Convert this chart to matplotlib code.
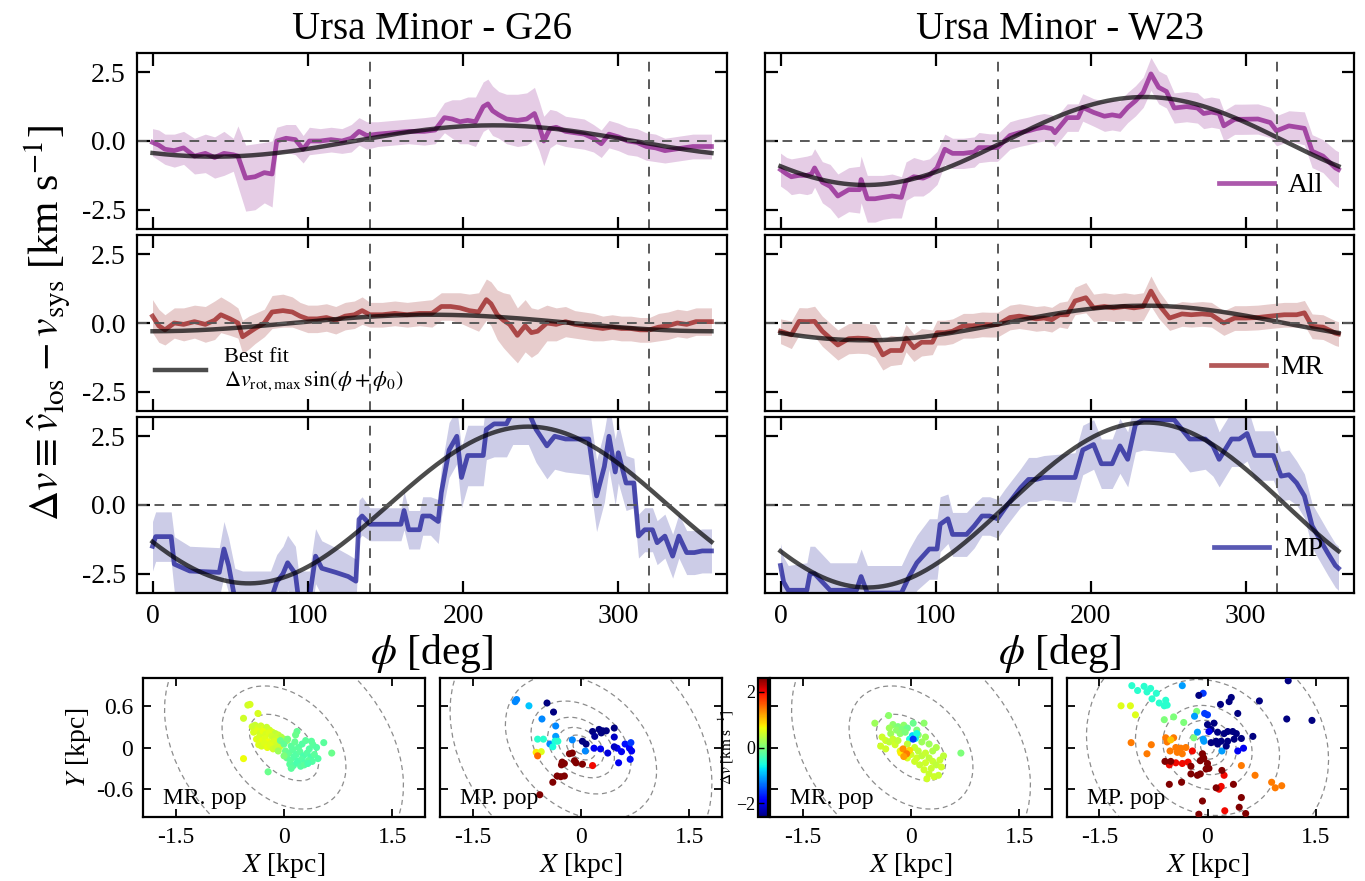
import numpy as np
import matplotlib
matplotlib.use("Agg")
import matplotlib.pyplot as plt
from matplotlib.patches import Ellipse

plt.rcParams['font.family'] = 'serif'
plt.rcParams['font.serif'] = ['Liberation Serif', 'DejaVu Serif']
plt.rcParams['mathtext.fontset'] = 'stix'

# ---------------- rotation curves: Ursa Minor - G26 ----------------
phi_all_g26 = [0, 4, 8, 14, 20, 27, 34, 40, 46, 52, 55, 60, 66, 72, 77, 80, 86, 92, 97, 101,
               108, 115, 122, 128, 133, 138, 145, 155, 165, 175, 182, 188, 193, 198, 203, 208, 213, 216, 219, 223,
               228, 235, 241, 246, 249, 252, 256, 260, 266, 272, 278, 284, 289, 294, 300, 306, 312, 318, 324, 330,
               336, 342, 348, 354, 360]
dv_all_g26 = [-0.05, -0.15, -0.3, -0.35, -0.25, -0.55, -0.45, -0.6, -0.45, -0.5, -0.55, -1.35, -1.3, -1.15, -1.2, 0.0, 0.1, 0.05, -0.3, 0.0,
              0.0, 0.05, 0.0, 0.1, 0.35, 0.2, 0.25, 0.3, 0.35, 0.35, 0.4, 0.85, 0.8, 0.7, 0.75, 0.7, 1.25, 1.35, 1.1, 0.95,
              0.8, 0.75, 0.8, 1.0, 0.55, 0.0, 0.45, 0.5, 0.35, 0.3, 0.25, 0.1, -0.1, 0.25, 0.15, 0.0, -0.05, -0.2, -0.25, -0.35,
              -0.3, -0.25, -0.2, -0.2, -0.2]
err_all_g26 = [0.5, 0.55, 0.55, 0.6, 0.6, 0.65, 0.7, 0.75, 0.8, 0.6, 1.1, 1.2, 1.2, 1.1, 1.2, 0.5, 0.5, 0.55, 0.5, 0.5,
               0.45, 0.45, 0.45, 0.5, 0.5, 0.5, 0.45, 0.45, 0.45, 0.5, 0.5, 0.55, 0.7, 0.8, 0.85, 0.9, 0.9, 0.9, 0.9, 0.85,
               0.9, 0.95, 0.95, 0.95, 0.9, 0.9, 0.7, 0.6, 0.55, 0.55, 0.55, 0.5, 0.5, 0.5, 0.5, 0.5, 0.5, 0.5, 0.5, 0.45,
               0.45, 0.45, 0.45, 0.45, 0.45]

phi_mr_g26 = [0, 4, 8, 14, 20, 27, 34, 40, 44, 50, 55, 58, 62, 66, 72, 77, 84, 90, 95, 100,
              106, 112, 118, 124, 130, 135, 140, 148, 156, 164, 172, 180, 186, 192, 198, 204, 210, 215, 218, 222,
              226, 230, 235, 240, 244, 248, 254, 260, 266, 272, 278, 284, 290, 296, 302, 308, 314, 320, 326, 332,
              338, 344, 350, 356, 360]
dv_mr_g26 = [0.25, -0.1, -0.25, 0.0, -0.05, 0.05, -0.05, 0.1, 0.3, 0.15, 0.0, -0.5, -0.35, -0.2, 0.0, 0.4, 0.45, 0.4, 0.25, 0.15,
             0.15, 0.2, 0.1, 0.25, 0.3, 0.45, 0.3, 0.3, 0.35, 0.3, 0.35, 0.35, 0.6, 0.6, 0.55, 0.45, 0.4, 0.85, 0.7, 0.3,
             0.1, -0.05, -0.45, -0.1, -0.35, -0.3, 0.0, -0.05, 0.05, -0.05, -0.1, -0.15, -0.2, -0.15, -0.2, -0.2, -0.25, -0.25, -0.15, -0.1,
             0.0, -0.05, 0.05, 0.05, 0.05]
err_mr_g26 = [0.6, 0.6, 0.55, 0.55, 0.6, 0.6, 0.65, 0.7, 0.65, 0.6, 0.55, 0.6, 0.6, 0.55, 0.5, 0.6, 0.6, 0.55, 0.5, 0.5,
              0.5, 0.5, 0.5, 0.5, 0.5, 0.5, 0.45, 0.45, 0.45, 0.45, 0.45, 0.5, 0.5, 0.5, 0.55, 0.6, 0.7, 0.75, 0.8, 0.9,
              1.0, 1.1, 1.0, 0.95, 0.9, 0.8, 0.65, 0.6, 0.55, 0.5, 0.5, 0.5, 0.45, 0.45, 0.45, 0.45, 0.45, 0.45, 0.5, 0.5,
              0.5, 0.5, 0.5, 0.5, 0.5]

phi_mp_g26 = [0, 2, 12, 14, 24, 43, 46, 49, 53, 58, 66, 76, 80, 84, 87, 92, 94, 101, 105, 109,
              118, 126, 131, 133, 135, 140, 160, 162, 165, 172, 174, 179, 184, 186, 191, 196, 199, 203, 213, 215,
              220, 228, 232, 242, 247, 254, 259, 266, 281, 286, 291, 294, 298, 300, 305, 310, 313, 317, 322, 325,
              330, 335, 339, 344, 349, 354, 360]
dv_mp_g26 = [-1.5, -1.15, -1.15, -2.15, -2.4, -2.45, -1.6, -2.2, -3.4, -3.5, -3.5, -3.5, -2.8, -2.5, -2.1, -2.5, -3.4, -3.4, -1.86, -2.3,
             -2.45, -2.6, -2.77, -0.52, -0.4, -0.7, -0.7, -0.2, -0.9, -0.9, -0.4, -0.4, -0.6, 0.45, 2.0, 2.5, 1.0, 1.8, 1.8, 2.75,
             2.95, 2.95, 3.4, 3.4, 2.75, 2.15, 2.5, 2.4, 2.4, 0.33, 1.4, 2.5, 1.2, 1.9, 0.8, 0.8, -1.13, -0.9, -0.9, -1.37,
             -1.13, -1.86, -1.13, -1.73, -1.73, -1.67, -1.67]
err_mp_g26 = [0.9, 0.9, 0.9, 1.0, 0.9, 0.9, 1.0, 1.0, 1.1, 1.1, 1.1, 1.1, 1.0, 1.0, 1.0, 1.0, 1.0, 1.0, 1.0, 1.0,
              0.9, 0.8, 0.8, 0.7, 0.7, 0.6, 0.6, 0.7, 0.7, 0.7, 0.7, 0.7, 0.8, 0.9, 1.0, 1.0, 1.1, 1.1, 1.1, 1.1,
              1.2, 1.2, 1.2, 1.2, 1.2, 1.2, 1.2, 1.2, 1.3, 1.3, 1.3, 1.2, 1.2, 1.1, 1.0, 0.9, 0.8, 0.8, 0.8, 0.8,
              0.8, 0.8, 0.8, 0.8, 0.8, 0.8, 0.8]

# ---------------- rotation curves: Ursa Minor - W23 ----------------
phi_all_w23 = [0, 4, 7, 12, 17, 20, 22, 27, 32, 37, 44, 51, 52, 56, 61, 66, 72, 78, 81, 86,
               92, 96, 101, 106, 111, 118, 125, 128, 135, 140, 148, 154, 160, 165, 170, 175, 177, 185, 192, 195,
               202, 209, 214, 219, 224, 229, 234, 239, 244, 249, 254, 262, 269, 273, 278, 283, 286, 293, 298, 308,
               316, 320, 328, 338, 343, 350, 358, 360]
dv_all_w23 = [-1.04, -1.2, -1.3, -1.25, -1.25, -1.2, -0.98, -1.5, -1.65, -2.0, -1.77, -1.77, -1.4, -2.1, -2.1, -2.05, -2.0, -2.05, -1.46, -1.3,
              -1.35, -1.25, -0.98, -0.3, -0.45, -0.45, -0.4, -0.24, -0.24, -0.24, 0.2, 0.3, 0.37, 0.45, 0.5, 0.45, 0.3, 0.85, 0.85, 1.22,
              1.04, 0.9, 0.95, 0.9, 1.22, 1.46, 1.77, 2.44, 1.95, 1.8, 1.2, 1.25, 1.2, 1.0, 1.05, 1.0, 0.55, 0.79, 0.79, 0.8,
              0.67, 0.37, 0.55, 0.46, -0.37, -0.55, -0.98, -1.04]
err_all_w23 = [0.6, 0.6, 0.65, 0.65, 0.7, 0.7, 0.7, 0.75, 0.8, 0.8, 0.8, 0.85, 0.85, 0.85, 0.85, 0.8, 0.8, 0.75, 0.7, 0.7,
               0.65, 0.6, 0.6, 0.55, 0.55, 0.55, 0.55, 0.55, 0.5, 0.5, 0.5, 0.5, 0.5, 0.5, 0.5, 0.5, 0.5, 0.5, 0.5, 0.5,
               0.5, 0.55, 0.55, 0.55, 0.55, 0.55, 0.55, 0.6, 0.6, 0.6, 0.55, 0.55, 0.55, 0.55, 0.55, 0.55, 0.55, 0.55, 0.55, 0.55,
               0.55, 0.55, 0.55, 0.6, 0.6, 0.6, 0.65, 0.65]

phi_mr_w23 = [0, 7, 12, 17, 22, 27, 32, 37, 44, 50, 56, 61, 66, 71, 78, 81, 86, 91, 98, 101,
              106, 111, 118, 124, 130, 135, 140, 148, 154, 160, 165, 170, 175, 180, 185, 190, 197, 202, 209, 215,
              222, 228, 234, 239, 244, 251, 259, 265, 272, 278, 286, 293, 300, 308, 316, 325, 333, 338, 343, 350,
              358, 360]
dv_mr_w23 = [-0.3, -0.43, 0.06, 0.05, 0.06, -0.3, -0.55, -0.8, -0.57, -0.55, -0.57, -0.65, -1.16, -1.0, -1.0, -0.55, -0.9, -0.7, -0.7, -0.35,
             -0.35, -0.3, -0.1, -0.1, -0.05, -0.06, -0.06, 0.2, 0.25, 0.2, 0.15, 0.18, 0.12, 0.3, 0.3, 0.8, 0.92, 0.55, 0.6, 0.55,
             0.6, 0.55, 0.6, 1.16, 0.67, 0.18, 0.33, 0.3, 0.33, 0.3, 0.0, 0.18, 0.18, 0.2, 0.25, 0.3, 0.3, 0.37, -0.12, -0.15,
             -0.37, -0.4]
err_mr_w23 = [0.45, 0.5, 0.5, 0.5, 0.55, 0.55, 0.55, 0.55, 0.55, 0.55, 0.55, 0.6, 0.55, 0.55, 0.5, 0.5, 0.5, 0.5, 0.45, 0.45,
              0.45, 0.45, 0.45, 0.45, 0.45, 0.45, 0.45, 0.45, 0.45, 0.45, 0.45, 0.45, 0.45, 0.45, 0.5, 0.5, 0.55, 0.5, 0.5, 0.5,
              0.5, 0.5, 0.5, 0.55, 0.5, 0.45, 0.45, 0.45, 0.45, 0.45, 0.45, 0.45, 0.45, 0.45, 0.45, 0.45, 0.45, 0.45, 0.45, 0.45,
              0.45, 0.45]

phi_mp_w23 = [0, 2, 5, 17, 19, 22, 27, 32, 49, 52, 56, 78, 83, 88, 96, 101, 103, 108, 111, 120,
              125, 130, 135, 140, 145, 155, 160, 165, 170, 190, 195, 202, 207, 214, 219, 224, 229, 234, 254, 259,
              264, 274, 279, 283, 291, 296, 301, 306, 311, 318, 323, 328, 333, 338, 343, 348, 353, 358, 360]
dv_mp_w23 = [-2.2, -2.8, -3.1, -3.1, -2.5, -2.5, -2.8, -3.1, -3.1, -2.6, -3.2, -3.2, -2.6, -2.1, -1.6, -1.6, -0.7, -0.5, -1.07, -1.07,
             -0.76, -0.4, -0.4, -0.5, -0.1, 0.63, 0.93, 0.93, 1.0, 1.0, 2.0, 2.2, 1.5, 1.5, 2.15, 1.66, 2.93, 3.1, 3.1, 2.75,
             2.4, 2.4, 2.15, 1.66, 2.4, 2.4, 2.6, 1.8, 1.8, 1.8, 1.05, 1.1, 0.8, 0.33, -0.76, -1.25, -1.74, -2.2, -2.3]
err_mp_w23 = [0.8, 0.9, 0.9, 1.0, 1.0, 1.0, 1.0, 1.0, 1.0, 1.0, 1.0, 1.0, 1.0, 1.0, 1.1, 1.1, 1.0, 0.9, 0.8, 0.8,
              0.8, 0.7, 0.7, 0.7, 0.7, 0.7, 0.8, 0.8, 0.8, 0.9, 0.9, 0.9, 0.9, 0.9, 1.0, 1.0, 1.0, 1.1, 1.2, 1.2,
              1.2, 1.1, 1.1, 1.0, 1.0, 1.0, 1.0, 0.9, 0.9, 0.9, 0.9, 0.9, 0.8, 0.8, 0.8, 0.8, 0.8, 0.8, 0.8]

# best-fit sinusoid parameters: amplitude [km/s], phase phi_0 [deg]
fit_g26 = {'All': (0.57, -130), 'MR': (0.30, -90), 'MP': (2.85, -152)}
fit_w23 = {'All': (1.60, -145), 'MR': (0.63, -145), 'MP': (3.00, -146)}

# ---------------- spatial maps: (X [kpc], Y [kpc], dv [km/s]) ----------------
pts_mr_g26 = [
    (-0.50, 0.61, 0.5), (-0.47, 0.62, 0.55), (-0.56, 0.42, 0.5), (-0.36, 0.49, 0.55), (-0.56, -0.16, 0.7),
    (-0.22, -0.35, -0.1), (0.66, -0.08, -0.1), (0.55, 0.07, -0.2), (0.38, 0.09, -0.2), (0.18, 0.23, -0.15),
    (-0.44, 0.30, 0.5), (-0.40, 0.32, 0.45), (-0.36, 0.28, 0.55), (-0.32, 0.31, 0.5), (-0.28, 0.27, 0.6),
    (-0.24, 0.29, 0.45), (-0.20, 0.25, 0.5), (-0.16, 0.22, 0.55), (-0.12, 0.20, 0.4), (-0.08, 0.18, 0.45),
    (-0.04, 0.15, 0.35), (0.00, 0.12, 0.3), (0.04, 0.10, 0.25), (-0.42, 0.22, 0.55), (-0.37, 0.24, 0.6),
    (-0.33, 0.20, 0.5), (-0.29, 0.23, 0.65), (-0.25, 0.19, 0.55), (-0.21, 0.21, 0.6), (-0.17, 0.16, 0.5),
    (-0.13, 0.13, 0.45), (-0.09, 0.11, 0.5), (-0.05, 0.08, 0.4), (-0.01, 0.05, 0.3), (-0.38, 0.12, 0.6),
    (-0.34, 0.15, 0.55), (-0.30, 0.10, 0.65), (-0.26, 0.13, 0.6), (-0.22, 0.08, 0.7), (-0.18, 0.06, 0.6),
    (-0.14, 0.09, 0.55), (-0.10, 0.03, 0.5), (-0.06, 0.01, 0.45), (-0.35, 0.04, 0.6), (-0.31, 0.02, 0.55),
    (-0.27, 0.06, 0.6), (-0.23, 0.00, 0.65), (-0.19, 0.03, 0.6), (-0.15, -0.02, 0.5), (-0.11, -0.01, 0.45),
    (-0.05, 0.10, -0.1), (0.00, 0.05, -0.15), (0.05, 0.12, -0.05), (0.10, 0.02, -0.2), (0.15, 0.08, -0.15),
    (0.20, 0.00, -0.2), (0.25, 0.05, -0.25), (0.30, 0.10, -0.2), (0.35, -0.02, -0.25), (0.40, 0.04, -0.2),
    (0.45, 0.00, -0.25), (0.02, -0.05, -0.1), (0.07, -0.08, -0.15), (0.12, -0.03, -0.2), (0.17, -0.10, -0.25),
    (0.22, -0.06, -0.2), (0.27, -0.12, -0.3), (0.32, -0.08, -0.25), (0.37, -0.14, -0.3), (0.42, -0.10, -0.2),
    (0.47, -0.16, -0.25), (0.04, -0.15, -0.15), (0.09, -0.18, -0.2), (0.14, -0.13, -0.25), (0.19, -0.20, -0.3),
    (0.24, -0.17, -0.25), (0.29, -0.22, -0.3), (0.34, -0.19, -0.2), (0.39, -0.20, -0.25), (0.08, -0.24, -0.2),
    (0.13, -0.26, -0.25), (0.18, -0.22, -0.3), (0.23, -0.27, -0.25), (0.28, -0.25, -0.2), (0.33, -0.23, -0.3),
    (0.10, -0.30, -0.2), (0.16, 0.18, -0.1), (-0.08, -0.05, 0.2), (0.00, -0.12, 0.0),
]

pts_mp_g26 = [
    (-0.91, 0.66, -1.2), (-0.89, 0.69, -1.2), (-0.54, 0.41, -1.2), (-0.35, 0.31, -1.2), (-0.43, 0.05, -1.2),
    (-0.12, 0.11, -1.2), (0.06, -0.05, -1.2), (-0.35, 0.16, -1.1), (-0.72, 0.60, -0.9),
    (-0.60, 0.12, -0.5), (-0.52, 0.12, -0.5), (-0.36, 0.09, -0.6), (-0.32, 0.09, -0.5), (-0.39, 0.01, -0.6),
    (-0.47, 0.64, -2.6), (-0.38, 0.51, -2.6), (0.16, 0.23, -2.6), (0.25, 0.26, -2.6), (0.30, 0.24, -2.6),
    (0.35, 0.24, -2.6), (0.46, 0.28, -2.6), (0.28, 0.21, -2.6), (0.19, 0.16, -2.4), (0.02, 0.09, -2.6),
    (0.07, 0.05, -2.5),
    (0.18, -0.01, -2.0), (0.27, -0.02, -2.0), (0.37, -0.08, -2.1), (0.50, -0.01, -2.0), (0.56, -0.06, -2.0),
    (0.61, 0.05, -1.8), (0.67, -0.01, -1.9), (0.70, -0.05, -2.0), (0.69, 0.07, -1.6), (0.68, -0.17, -1.8),
    (0.52, -0.22, -2.0), (0.46, 0.01, -2.2), (0.46, 0.15, -2.2),
    (-0.62, -0.07, 0.8), (-0.55, -0.06, 0.6), (-0.60, -0.12, 1.5), (0.16, -0.26, 2.0),
    (-0.26, -0.21, 2.6), (-0.23, -0.23, 2.6), (-0.27, -0.25, 2.6), (-0.16, -0.09, 2.6), (-0.12, -0.08, 2.6),
    (-0.09, -0.19, 2.6), (-0.07, -0.22, 2.6), (0.02, -0.24, 2.6), (-0.33, -0.41, 2.6), (-0.28, -0.42, 2.6),
    (-0.23, -0.41, 2.6), (-0.39, -0.50, 2.6), (-0.57, -0.68, 2.6),
]

pts_mr_w23 = [
    (-0.31, 0.46, 0.1), (-0.50, 0.35, 0.2), (0.03, 0.35, -0.1), (0.18, 0.35, 0.1), (-0.25, 0.33, 0.1),
    (-0.18, 0.30, 0.0), (-0.10, 0.32, 0.1), (-0.30, 0.28, 0.2), (-0.20, 0.25, 0.1), (-0.12, 0.26, 0.0),
    (-0.05, 0.28, -0.1), (0.08, 0.25, 0.0), (-0.28, 0.20, 0.2), (-0.15, 0.20, 0.1), (-0.08, 0.22, 0.0),
    (0.10, 0.18, 0.1), (0.20, 0.15, 0.2), (0.25, 0.05, 0.2), (0.35, 0.00, 0.3), (0.69, -0.08, 0.0),
    (0.30, -0.05, 0.3), (0.15, 0.08, 0.2),
    (0.02, 0.17, -0.8), (0.06, 0.13, -0.7), (0.08, 0.20, -0.6), (-0.02, 0.12, -0.6), (0.03, 0.12, -1.6),
    (-0.40, 0.15, 0.5), (-0.35, 0.10, 0.5), (-0.42, 0.02, 0.5), (-0.30, 0.08, 0.4), (-0.25, 0.12, 0.45),
    (-0.22, 0.04, 0.5), (-0.35, -0.02, 0.5), (-0.18, 0.10, 0.4), (-0.05, 0.05, 0.4), (0.05, 0.00, 0.45),
    (0.10, -0.05, 0.4), (0.00, -0.10, 0.5), (0.08, -0.15, 0.5), (0.15, -0.12, 0.4), (0.20, -0.08, 0.45),
    (0.25, -0.15, 0.4), (0.30, -0.20, 0.45), (0.20, -0.22, 0.5), (0.12, -0.25, 0.45), (0.35, -0.25, 0.4),
    (0.40, -0.18, 0.45), (0.42, -0.28, 0.5), (0.28, -0.30, 0.45), (0.18, -0.32, 0.5), (0.25, -0.38, 0.45),
    (0.32, -0.42, 0.5), (0.22, -0.45, 0.5), (0.38, -0.40, 0.45), (0.05, -0.20, 0.5), (-0.05, -0.15, 0.55),
    (0.45, -0.12, 0.4), (-0.15, -0.05, 0.6),
    (-0.14, -0.08, 0.8), (-0.08, -0.12, 0.8), (-0.02, -0.04, 0.9),
    (-0.11, -0.02, 1.3), (-0.06, -0.09, 1.4), (-0.10, -0.13, 1.2),
]

pts_mp_w23 = [
    (-1.05, 0.89, -0.5), (-0.97, 0.82, -0.5), (-0.88, 0.88, -0.5), (-0.84, 0.80, -0.5), (-0.79, 0.85, -0.5),
    (-0.71, 0.78, -0.5), (-0.77, 0.70, -0.5), (-0.67, 0.64, -0.5), (-0.58, 0.68, -0.5), (-0.56, 0.61, -0.5),
    (-0.60, 0.60, -0.5),
    (-1.20, 0.60, 0.6), (-1.07, 0.60, 0.6), (-1.00, 0.47, 0.6),
    (-0.60, 0.40, 0.0), (-0.47, 0.44, 0.0), (-0.33, 0.36, 0.0), (-0.15, 0.52, 0.0), (-0.19, 0.14, 0.0),
    (-0.35, 0.89, -1.1), (-0.18, 0.45, -1.1), (-0.14, 0.22, -1.1), (-0.06, 0.12, -1.1), (-0.05, 0.09, -1.1),
    (0.20, -0.05, -1.1),
    (-0.06, 0.78, -1.6), (-0.04, 0.49, -1.6), (0.00, 0.47, -1.6),
    (-0.12, 0.75, -2.6), (0.18, 0.62, -2.6), (0.30, 0.66, -2.6), (0.33, 0.72, -2.6), (0.42, 0.49, -2.6),
    (0.72, 0.67, -2.6), (1.12, 0.96, -2.6), (1.10, 0.41, -2.6), (1.45, 0.39, -2.6), (0.09, 0.35, -2.6),
    (0.00, 0.33, -2.6), (0.05, 0.26, -2.6), (0.14, 0.22, -2.6), (0.23, 0.20, -2.6), (0.28, 0.23, -2.6),
    (0.35, 0.23, -2.6), (0.40, 0.20, -2.6), (0.47, 0.13, -2.6), (0.37, 0.12, -2.6), (0.28, 0.09, -2.6),
    (0.19, 0.09, -2.6), (0.12, 0.09, -2.6), (0.05, 0.07, -2.6), (0.14, 0.05, -2.6), (0.63, 0.16, -2.6),
    (0.26, 0.02, -2.6),
    (0.02, 0.23, -2.0), (0.50, -0.01, -2.0), (0.42, -0.05, -2.0),
    (-1.06, 0.07, 1.4), (-0.84, -0.09, 1.4), (-0.78, 0.04, 1.4), (-0.58, 0.14, 1.4), (-0.47, 0.14, 1.4),
    (-0.56, 0.08, 1.4), (-0.44, 0.00, 1.4), (-0.37, -0.01, 1.4), (-0.42, -0.07, 1.4), (-0.35, -0.09, 1.4),
    (-0.30, 0.00, 1.4), (-0.52, -0.05, 1.4), (0.47, -0.26, 1.4), (0.66, -0.40, 1.4), (0.89, -0.50, 1.4),
    (0.94, -0.58, 1.4), (1.03, -0.55, 1.4), (-0.51, 0.11, 1.0),
    (-0.53, -0.25, 2.0), (-0.44, -0.22, 2.0), (-0.35, -0.23, 2.0), (-0.27, -0.21, 2.0), (-0.21, -0.05, 2.0),
    (0.19, -0.56, 2.0), (0.16, -0.60, 2.0), (0.24, -0.91, 2.0), (0.23, -0.40, 2.0),
    (-0.59, -0.20, 2.6), (-0.51, -0.20, 2.6), (-0.23, -0.27, 2.6), (-0.10, -0.19, 2.6), (-0.07, -0.09, 2.6),
    (-0.06, -0.14, 2.6), (-0.05, -0.16, 2.6), (0.00, -0.23, 2.6), (0.02, -0.30, 2.6), (-0.02, -0.31, 2.6),
    (-0.10, -0.38, 2.6), (-0.14, -0.40, 2.6), (-0.23, -0.38, 2.6), (0.12, -0.58, 2.6), (0.20, -0.33, 2.6),
    (0.36, -0.53, 2.6), (-0.36, -0.50, 2.6), (-0.53, -0.53, 2.6), (-0.07, -0.77, 2.6), (0.44, -0.86, 2.6),
    (0.53, -0.95, 2.6), (-0.12, -0.96, 2.6), (0.47, -0.72, 2.6),
]

# density contours: (semi-major axis [kpc], axis ratio, position angle [deg])
cont_mr_g26 = [(0.58, 0.6, -45), (1.0, 0.72, -48), (1.95, 0.72, -50)]
cont_mp_g26 = [(0.12, 0.7, -35), (0.22, 0.7, -35), (0.35, 0.7, -38), (0.52, 0.7, -40),
               (0.78, 0.72, -42), (1.2, 0.72, -45), (2.1, 0.75, -50)]
cont_mr_w23 = [(0.58, 0.6, -45), (1.0, 0.72, -48), (1.95, 0.72, -50)]
cont_mp_w23 = [(0.1, 0.88, -40), (0.18, 0.88, -40), (0.28, 0.88, -40), (0.42, 0.88, -40),
               (0.65, 0.88, -40), (1.05, 0.88, -40), (1.75, 0.9, -40)]

# ---------------- styles ----------------
pop_colors = {'All': 'purple', 'MR': 'darkred', 'MP': 'darkblue'}
W, H = 1365, 881
fig = plt.figure(figsize=(W / 100, H / 100), dpi=100)


def box(x0, y0, x1, y1):
    return [x0 / W, 1 - y1 / H, (x1 - x0) / W, (y1 - y0) / H]


rows = [(53, 229), (235, 411), (417, 593)]
cols = [(137, 727), (765, 1354)]
datasets = [
    ('Ursa Minor - G26', fit_g26,
     [('All', phi_all_g26, dv_all_g26, err_all_g26),
      ('MR', phi_mr_g26, dv_mr_g26, err_mr_g26),
      ('MP', phi_mp_g26, dv_mp_g26, err_mp_g26)]),
    ('Ursa Minor - W23', fit_w23,
     [('All', phi_all_w23, dv_all_w23, err_all_w23),
      ('MR', phi_mr_w23, dv_mr_w23, err_mr_w23),
      ('MP', phi_mp_w23, dv_mp_w23, err_mp_w23)]),
]

phi_grid = np.linspace(0, 360, 361)
for c, (title, fits, series) in enumerate(datasets):
    for r, (pop, phi, dv, err) in enumerate(series):
        ax = fig.add_axes(box(cols[c][0], rows[r][0], cols[c][1], rows[r][1]))
        phi = np.array(phi, float)
        dv = np.array(dv, float)
        err = np.array(err, float)
        col = pop_colors[pop]
        ax.fill_between(phi, dv - err, dv + err, color=col, alpha=0.2, lw=0)
        ax.plot(phi, dv, color=col, alpha=0.65, lw=3.4, label=pop)
        amp, ph0 = fits[pop]
        fit_line, = ax.plot(phi_grid, amp * np.sin(np.radians(phi_grid + ph0)),
                            color='k', alpha=0.7, lw=3.2)
        ax.axhline(0, color='0.35', ls='--', lw=1.4, dashes=(5, 4))
        for v in (140, 320):
            ax.axvline(v, color='0.35', ls='--', lw=1.4, dashes=(5, 4))
        ax.set_xlim(-10, 370)
        ax.set_ylim(-3.2, 3.2)
        ax.set_xticks([0, 100, 200, 300])
        ax.set_yticks([-2.5, 0, 2.5])
        ax.tick_params(direction='in', top=True, right=True, length=9, width=1.6,
                       labelsize=20, pad=8)
        for s in ax.spines.values():
            s.set_linewidth(1.6)
        if r < 2:
            ax.set_xticklabels([])
        else:
            ax.set_xlabel(r'$\phi$ [deg]', fontsize=30, labelpad=2)
        if c == 1:
            ax.set_yticklabels([])
            ax.legend(loc='lower right', frameon=False, fontsize=20,
                      handlelength=2.0, borderaxespad=0.7, handletextpad=0.5)
        else:
            ax.yaxis.set_major_formatter(matplotlib.ticker.FormatStrFormatter('%.1f'))
        if r == 0:
            ax.set_title(title, fontsize=28, pad=10)
        if c == 0 and r == 1:
            ax.legend([fit_line], ['Best fit\n' + r'$\Delta v_{\rm rot,max}\,\sin(\phi+\phi_0)$'],
                      loc='lower left', frameon=False, fontsize=16, handlelength=2.3,
                      borderaxespad=0.4, handletextpad=0.8)

fig.text(0.035, 1 - 323 / H, r'$\Delta v \equiv \hat{v}_{\rm los} - v_{\rm sys}$ [km s$^{-1}$]',
         rotation=90, ha='center', va='center', fontsize=30)

# ---------------- spatial maps ----------------
maps = [((143, 425), pts_mr_g26, cont_mr_g26, 'MR. pop'),
        ((440, 722), pts_mp_g26, cont_mp_g26, 'MP. pop'),
        ((770, 1052), pts_mr_w23, cont_mr_w23, 'MR. pop'),
        ((1067, 1348), pts_mp_w23, cont_mp_w23, 'MP. pop')]
sc = None
for i, ((x0, x1), pts, conts, lab) in enumerate(maps):
    ax = fig.add_axes(box(x0, 678, x1, 817))
    for a, q, pa in conts:
        ax.add_patch(Ellipse((0, 0), 2 * a, 2 * a * q, angle=pa, fill=False,
                             ec='0.55', lw=0.9, ls=(0, (4, 3))))
    xs = [p[0] for p in pts]
    ys = [p[1] for p in pts]
    cs = [p[2] for p in pts]
    sc = ax.scatter(xs, ys, c=cs, cmap='jet', vmin=-2.5, vmax=2.5, s=26,
                    edgecolors='none', zorder=3)
    ax.set_xlim(-1.95, 1.95)
    ax.set_ylim(-1.0, 1.0)
    ax.set_xticks([-1.5, 0, 1.5])
    ax.set_xticklabels(['-1.5', '0', '1.5'])
    ax.set_yticks([-0.6, 0, 0.6])
    ax.tick_params(direction='in', top=True, right=True, length=6, width=1.3,
                   labelsize=17, pad=7)
    for s in ax.spines.values():
        s.set_linewidth(1.6)
    if i == 0:
        ax.set_yticklabels(['-0.6', '0', '0.6'])
        ax.set_ylabel(r'$Y$ [kpc]', fontsize=20, labelpad=2)
    else:
        ax.set_yticklabels([])
    ax.set_xlabel(r'$X$ [kpc]', fontsize=20, labelpad=2)
    ax.text(0.07, 0.06, lab, transform=ax.transAxes, fontsize=17, ha='left', va='bottom')

cax = fig.add_axes(box(758, 678, 768, 817))
cb = fig.colorbar(sc, cax=cax)
cb.set_ticks([-2, 0, 2])
cax.yaxis.set_ticks_position('left')
cax.yaxis.set_label_position('left')
cax.tick_params(direction='in', labelsize=13, length=4, width=1, pad=2)
cb.set_label(r'$\Delta v$ [km s$^{-1}$]', fontsize=11, labelpad=0)
cb.outline.set_linewidth(1.6)

fig.savefig('out.png', dpi=100)
